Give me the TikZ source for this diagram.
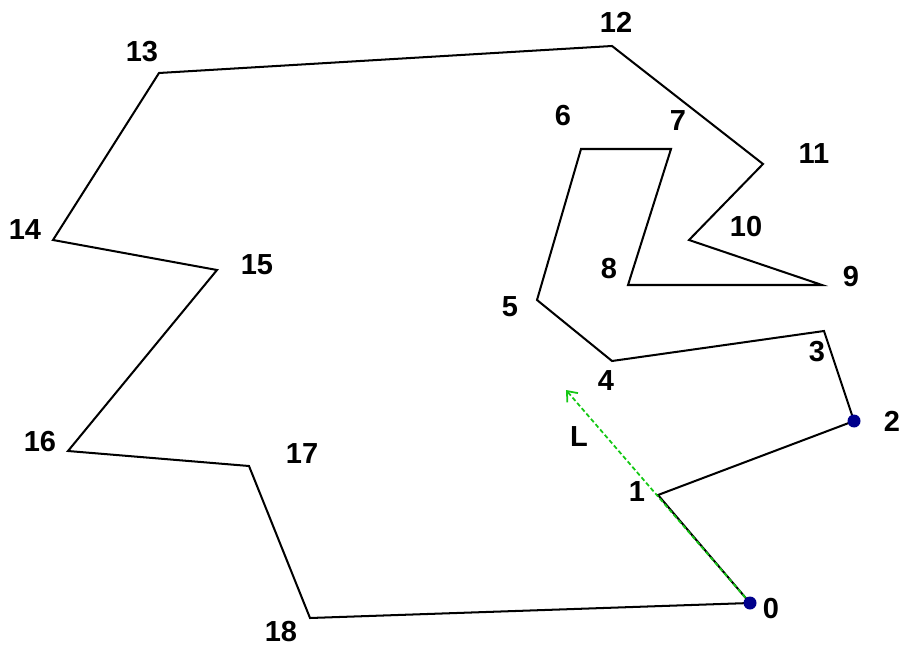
\documentclass[tikz,border=0pt]{standalone}
\usepackage{fontspec}
\setmainfont{Liberation Sans}
\usetikzlibrary{arrows.meta}
\definecolor{dotblue}{RGB}{0,0,140}
\definecolor{lgreen}{RGB}{20,200,20}
\tikzset{
	lbl/.style={font=\bfseries\fontsize{16.5}{18}\selectfont,inner sep=0pt},
	vdot/.style={fill=dotblue,draw=none}
}
\begin{document}
\begin{tikzpicture}[x=0.02cm,y=-0.02cm]
		\useasboundingbox (0,0) rectangle (905,648);
		\coordinate (P0) at (750,603);
		\coordinate (P1) at (658,495);
		\coordinate (P2) at (854,421);
		\coordinate (P3) at (824,331);
		\coordinate (P4) at (612,361);
		\coordinate (P5) at (537,300);
		\coordinate (P6) at (581,149);
		\coordinate (P7) at (671,149);
		\coordinate (P8) at (628,285);
		\coordinate (P9) at (822,285);
		\coordinate (P10) at (689,240);
		\coordinate (P11) at (763,164);
		\coordinate (P12) at (612,46);
		\coordinate (P13) at (159,73);
		\coordinate (P14) at (53,240);
		\coordinate (P15) at (217,270);
		\coordinate (P16) at (68,451);
		\coordinate (P17) at (249,466);
		\coordinate (P18) at (310,618);
		\coordinate (Ltip) at (566,390);
		\draw [line width=1.15pt,line join=miter] (P0) -- (P1) -- (P2) -- (P3) -- (P4) -- (P5) -- (P6) -- (P7) -- (P8) -- (P9) -- (P10) -- (P11) -- (P12) -- (P13) -- (P14) -- (P15) -- (P16) -- (P17) -- (P18) -- cycle;
		\draw [line width=1pt,lgreen,dashed,dash pattern=on 2.5pt off 1.5pt,-{Straight Barb[length=5pt,width=8pt]}] (P0) to (Ltip);
		\fill [vdot] (P0) circle (6.5);
		\fill [vdot] (P2) circle (6.5);
		\node [lbl] (l0) at (771,609) {0};
		\node [lbl] (l1) at (637,492) {1};
		\node [lbl] (l2) at (892,421) {2};
		\node [lbl] (l3) at (817,352) {3};
		\node [lbl] (l4) at (606,381) {4};
		\node [lbl] (l5) at (510,307) {5};
		\node [lbl] (l6) at (563,116) {6};
		\node [lbl] (l7) at (678,121) {7};
		\node [lbl] (l8) at (609,269) {8};
		\node [lbl] (l9) at (851,277) {9};
		\node [lbl] (l10) at (746,227) {10};
		\node [lbl] (l11) at (814,154) {11};
		\node [lbl] (l12) at (616,22) {12};
		\node [lbl] (l13) at (142,52) {13};
		\node [lbl] (l14) at (25,230) {14};
		\node [lbl] (l15) at (257,265) {15};
		\node [lbl] (l16) at (40,442) {16};
		\node [lbl] (l17) at (302,454) {17};
		\node [lbl] (l18) at (281,632) {18};
		\node [lbl] (lL) at (579,437) {L};
	\end{tikzpicture}
\end{document}
